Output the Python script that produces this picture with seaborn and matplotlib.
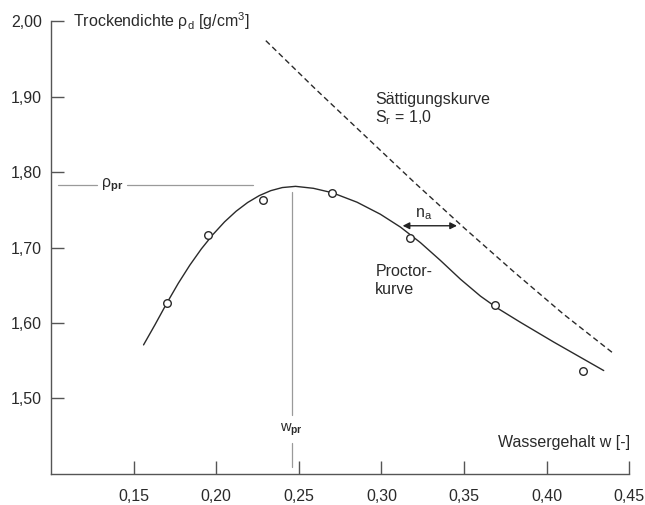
import matplotlib
matplotlib.use('Agg')
import matplotlib.pyplot as plt
import seaborn as sns

# measured points (Wassergehalt, Trockendichte)
w_points = [0.170, 0.195, 0.228, 0.270, 0.317, 0.369, 0.422]
rho_points = [1.626, 1.717, 1.763, 1.772, 1.713, 1.624, 1.536]

# Proctor curve
w_curve = [0.156, 0.163, 0.170, 0.177, 0.184, 0.191, 0.198, 0.205, 0.212,
           0.219, 0.226, 0.233, 0.240, 0.248, 0.2588, 0.2703, 0.2852,
           0.2993, 0.3115, 0.3236, 0.3357, 0.3478, 0.3599, 0.370, 0.3841,
           0.4042, 0.4345]
rho_curve = [1.571, 1.598, 1.626, 1.6525, 1.6766, 1.6982, 1.7172, 1.7339,
             1.7480, 1.7596, 1.7687, 1.7753, 1.7794, 1.781, 1.7784, 1.7725,
             1.7600, 1.7441, 1.7270, 1.7064, 1.6828, 1.6580, 1.6356,
             1.6199, 1.6009, 1.5748, 1.537]

# Sättigungskurve (dashed)
w_sat = [0.230, 0.260, 0.290, 0.320, 0.350, 0.380, 0.410, 0.4405]
rho_sat = [1.974, 1.910, 1.848, 1.786, 1.726, 1.668, 1.612, 1.5595]

# Proctor optimum
rho_pr = 1.783
w_pr = 0.2458

x_ticks = [0.15, 0.20, 0.25, 0.30, 0.35, 0.40, 0.45]
x_tick_labels = ['0,15', '0,20', '0,25', '0,30', '0,35', '0,40', '0,45']
y_ticks = [1.50, 1.60, 1.70, 1.80, 1.90, 2.00]
y_tick_labels = ['1,50', '1,60', '1,70', '1,80', '1,90', '2,00']

# n_a arrow
na_x = [0.3128, 0.3457]
na_y = 1.7288


def main():
    sns.set_style('ticks')
    plt.rcParams['font.family'] = ['Liberation Sans', 'DejaVu Sans']
    plt.rcParams['mathtext.fontset'] = 'custom'
    plt.rcParams['mathtext.rm'] = 'Liberation Sans'
    plt.rcParams['mathtext.it'] = 'Liberation Sans:italic'
    plt.rcParams['mathtext.bf'] = 'Liberation Sans:bold'
    plt.rcParams['mathtext.default'] = 'regular'

    txt = '#2a2a2a'
    ref = '#9a9a9a'
    fs = 11.5

    fig = plt.figure(figsize=(6.45, 5.05), dpi=100)
    ax = fig.add_axes([0.0791, 0.0614, 0.8966, 0.8970])

    sns.lineplot(x=w_curve, y=rho_curve, ax=ax, color='#2a2a2a', lw=1.0,
                 sort=False, estimator=None, zorder=2)
    sns.lineplot(x=w_sat, y=rho_sat, ax=ax, color='#2a2a2a', lw=1.0,
                 sort=False, estimator=None, zorder=2)
    ax.lines[-1].set_linestyle((0, (4, 2.5)))
    sns.scatterplot(x=w_points, y=rho_points, ax=ax, s=30, marker='o',
                    facecolor='white', edgecolor='#2a2a2a', linewidth=1.0,
                    zorder=3)

    # reference lines for the optimum
    ax.plot([0.1044, 0.128], [rho_pr, rho_pr], color=ref, lw=0.9)
    ax.plot([0.1462, 0.2224], [rho_pr, rho_pr], color=ref, lw=0.9)
    ax.text(0.1370, rho_pr, r'ρ$_{\mathbf{pr}}$', ha='center', va='center',
            fontsize=fs, color=txt)
    ax.plot([w_pr, w_pr], [1.773, 1.478], color=ref, lw=0.9)
    ax.plot([w_pr, w_pr], [1.4405, 1.4096], color=ref, lw=0.9)
    ax.text(w_pr, 1.458, r'w$_{\mathbf{pr}}$', ha='center', va='center',
            fontsize=fs - 1, color=txt)

    # n_a arrow
    ax.annotate('', xy=(na_x[0], na_y), xytext=(na_x[1], na_y),
                arrowprops=dict(arrowstyle='<|-|>', color='#222222', lw=1.0,
                                mutation_scale=10, shrinkA=0, shrinkB=0))
    ax.text(0.3255, 1.7445, r'n$_a$', ha='center', va='center',
            fontsize=fs, color=txt)

    ax.text(0.2963, 1.8955, 'Sättigungskurve', ha='left', va='center',
            fontsize=fs, color=txt)
    ax.text(0.2963, 1.8717, r'S$_r$ = 1,0', ha='left', va='center',
            fontsize=fs, color=txt)
    ax.text(0.2963, 1.6684, 'Proctor-', ha='left', va='center',
            fontsize=fs, color=txt)
    ax.text(0.2963, 1.6442, 'kurve', ha='left', va='center',
            fontsize=fs, color=txt)

    # axis titles inside the plot
    ax.text(0.1135, 2.00, r'Trockendichte ρ$_d$ [g/cm$^3$]', ha='left',
            va='center', fontsize=fs, color=txt)
    ax.text(0.4506, 1.4418, 'Wassergehalt w [-]', ha='right', va='center',
            fontsize=fs, color=txt)

    ax.set_xlim(0.10, 0.45)
    ax.set_ylim(1.40, 2.00)
    ax.set_xticks(x_ticks)
    ax.set_xticklabels(x_tick_labels)
    ax.set_yticks(y_ticks)
    ax.set_yticklabels(y_tick_labels)
    ax.set_xlabel('')
    ax.set_ylabel('')

    sns.despine(ax=ax)
    for side in ['left', 'bottom']:
        ax.spines[side].set_color('#555555')
        ax.spines[side].set_linewidth(1.0)
    ax.tick_params(axis='both', direction='in', length=9.4, width=1.0,
                   color='#555555', labelsize=fs, labelcolor=txt)
    ax.tick_params(axis='x', pad=11)
    ax.tick_params(axis='y', pad=6.5)

    fig.savefig('out.png', dpi=100)


if __name__ == '__main__':
    main()
